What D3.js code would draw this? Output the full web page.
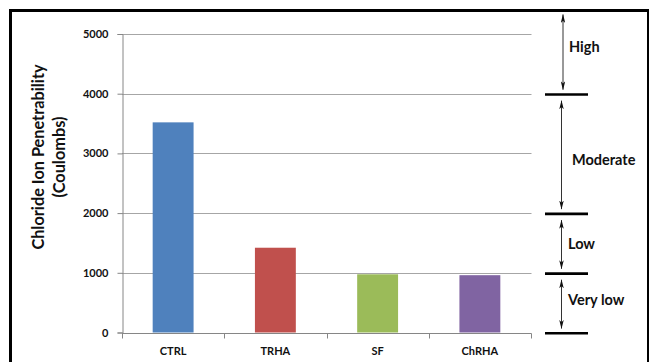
<!DOCTYPE html>
<html>
<head>
<meta charset="utf-8">
<script src="https://cdn.jsdelivr.net/npm/d3@7"></script>
<style>
  html, body { margin: 0; padding: 0; background: #fff; }
  svg { display: block; }
  text { font-family: Lato, "Open Sans", sans-serif; font-weight: bold; fill: #111; }
</style>
</head>
<body>
<svg id="chart" width="653" height="362"></svg>
<script>
// Chloride ion penetrability per mix (Coulombs)
const categories = ["CTRL", "TRHA", "SF", "ChRHA"];
const charge = [3520, 1420, 975, 960];
const barColors = ["#4f81bd", "#c0504d", "#9bbb59", "#8064a2"];
const yTicks = [0, 1000, 2000, 3000, 4000, 5000];

// Penetrability classes and their bounds
const levelNames = ["High", "Moderate", "Low", "Very low"];
const levelUpper = [null, 4000, 2000, 1000];
const levelLower = [4000, 2000, 1000, 0];
const boundaries = [4000, 2000, 1000, 0];

const svg = d3.select("#chart");
const W = 653, H = 362;

svg.append("rect").attr("width", W).attr("height", H).attr("fill", "#fff");

const x = d3.scaleBand().domain(categories).range([122, 531]).paddingInner(0.6).paddingOuter(0.3);
const y = d3.scaleLinear().domain([0, 5000]).range([332.5, 34]);

// gridlines
svg.append("g").selectAll("line").data(yTicks.filter(d => d > 0)).join("line")
  .attr("x1", 122).attr("x2", 531.5)
  .attr("y1", d => Math.round(y(d)) + 0.5).attr("y2", d => Math.round(y(d)) + 0.5)
  .attr("stroke", "#a6a6a6").attr("stroke-width", 1);

// bars
svg.append("g").selectAll("rect").data(categories).join("rect")
  .attr("x", d => x(d))
  .attr("width", x.bandwidth())
  .attr("y", (d, i) => y(charge[i]))
  .attr("height", (d, i) => y(0) - y(charge[i]))
  .attr("fill", (d, i) => barColors[i]);

// y axis
const yAxis = d3.axisLeft(y).tickValues(yTicks).tickSize(5).tickPadding(9).tickFormat(d3.format("d"));
const gy = svg.append("g").attr("transform", "translate(122.5,0)").call(yAxis);
gy.select(".domain").attr("stroke", "#868686");
gy.selectAll(".tick line").attr("stroke", "#868686");
gy.selectAll(".tick text").style("font-size", "11px").attr("fill", "#111");

// x axis with ticks between categories
const gx = svg.append("g").attr("transform", `translate(0,${Math.round(y(0)) + 0.5})`);
gx.append("line").attr("x1", 122).attr("x2", 531.5).attr("stroke", "#868686");
const edges = categories.map(c => x(c) - x.step() * x.paddingInner() / 2).concat([531]);
gx.selectAll("line.tk").data(edges).join("line").attr("class", "tk")
  .attr("x1", d => Math.round(d) + 0.5).attr("x2", d => Math.round(d) + 0.5)
  .attr("y1", 0).attr("y2", 5).attr("stroke", "#868686");
gx.selectAll("text").data(categories).join("text")
  .attr("x", d => x(d) + x.bandwidth() / 2)
  .attr("y", 21)
  .attr("text-anchor", "middle")
  .style("font-size", "11px")
  .text(d => d);

// y axis title
const title = svg.append("text")
  .attr("transform", "translate(44,157) rotate(-90)")
  .attr("text-anchor", "middle")
  .style("font-size", "16.3px");
title.append("tspan").attr("x", 0).attr("y", 0).text("Chloride Ion Penetrability");
title.append("tspan").attr("x", 0).attr("y", 21).text("(Coulombs)");

// class boundary bars
svg.append("g").selectAll("line").data(boundaries).join("line")
  .attr("x1", 545).attr("x2", 588)
  .attr("y1", d => y(d) + 0.8).attr("y2", d => y(d) + 0.8)
  .attr("stroke", "#000").attr("stroke-width", 2.6);

// arrow heads (pointing along the path direction)
const defs = svg.append("defs");
defs.append("marker").attr("id", "ah")
  .attr("viewBox", "0 0 20 10").attr("refX", 19).attr("refY", 5)
  .attr("markerUnits", "userSpaceOnUse")
  .attr("markerWidth", 9).attr("markerHeight", 4.5)
  .attr("orient", "auto-start-reverse")
  .append("path").attr("d", "M20,5 L0,0 L5,5 L0,10 Z").attr("fill", "#111");

const frameTop = 11.5;
const arrowX = [563, 561.5, 561.5, 561.5];
const labelX = [569, 572, 568, 568];
const labelY = [52, 165, 249, 305];

const ga = svg.append("g");
levelNames.forEach((name, i) => {
  const top = levelUpper[i] === null ? frameTop + 3 : y(levelUpper[i]) + 7;
  const bot = y(levelLower[i]) - 4;
  ga.append("line")
    .attr("x1", arrowX[i]).attr("x2", arrowX[i])
    .attr("y1", bot).attr("y2", top)
    .attr("stroke", "#333").attr("stroke-width", 1)
    .attr("marker-start", "url(#ah)").attr("marker-end", "url(#ah)");
  ga.append("text")
    .attr("x", labelX[i]).attr("y", labelY[i])
    .style("font-size", "14.5px")
    .text(name);
});

// frame
svg.append("line").attr("x1", 10.5).attr("x2", 10.5).attr("y1", 9).attr("y2", H).attr("stroke", "#000").attr("stroke-width", 3);
svg.append("line").attr("x1", 9).attr("x2", 649).attr("y1", 10.5).attr("y2", 10.5).attr("stroke", "#000").attr("stroke-width", 3);
svg.append("line").attr("x1", 648).attr("x2", 648).attr("y1", 9).attr("y2", H).attr("stroke", "#000").attr("stroke-width", 2);
</script>
</body>
</html>
